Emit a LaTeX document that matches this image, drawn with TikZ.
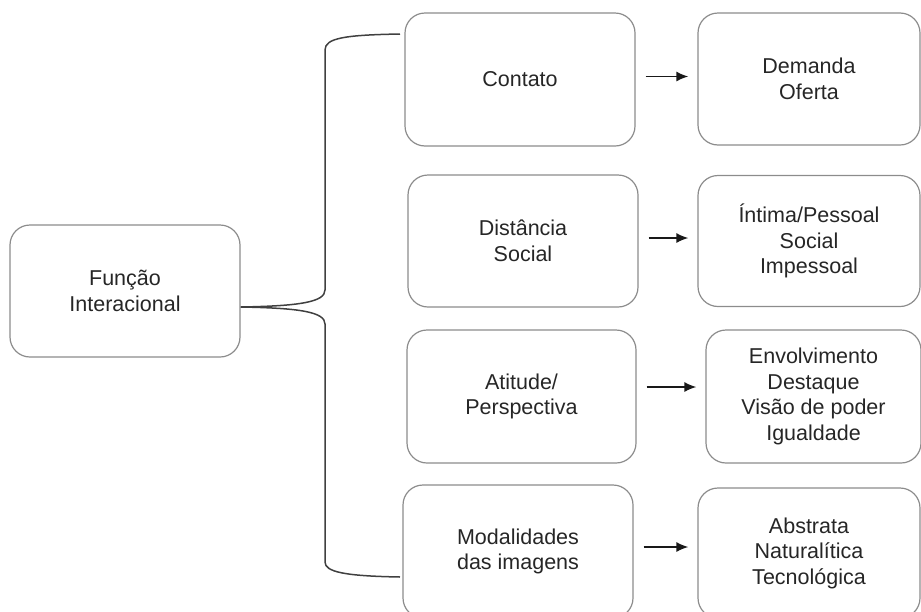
\documentclass[tikz,border=0pt]{standalone}
\usepackage{fontspec}
\setmainfont{Liberation Sans}
\usepackage{tikz}
\usetikzlibrary{arrows.meta}

\tikzset{
    caixa/.style={draw=black!45, line width=1.2pt, rounded corners=20pt, align=center,
        text=black!85, font=\fontsize{21.5}{25.5}\selectfont, inner sep=0pt},
    seta/.style={-{Latex[length=12pt,width=10pt]}, line width=1.6pt, black!90},
    chave/.style={line width=1.5pt, black!75}
}

\begin{document}
\begin{tikzpicture}[x=1pt,y=-1pt]
    \useasboundingbox (0,0) rectangle (921,611);

    % caixa principal
    \node[caixa, minimum width=230pt, minimum height=132pt] (funcao) at (125,291) {Função\\Interacional};

    % coluna do meio
    \node[caixa, minimum width=230pt, minimum height=133pt] (contato) at (520,79.5) {Contato};
    \node[caixa, minimum width=230pt, minimum height=132pt] (distancia) at (523,241) {Distância\\Social};
    \node[caixa, minimum width=229pt, minimum height=133pt] (atitude) at (521.5,396.5) {Atitude/\\Perspectiva};
    \node[caixa, minimum width=230pt, minimum height=133pt] (modal) at (518,551.5) {Modalidades\\das imagens};

    % coluna da direita
    \node[caixa, minimum width=222pt, minimum height=132pt] (demanda) at (809,79) {Demanda\\Oferta};
    \node[caixa, minimum width=222pt, minimum height=131pt] (intima) at (809,241) {Íntima/Pessoal\\Social\\Impessoal};
    \node[caixa, minimum width=215pt, minimum height=133pt] (envolv) at (813.5,396.5) {Envolvimento\\Destaque\\Visão de poder\\Igualdade};
    \node[caixa, minimum width=222pt, minimum height=130pt] (abstrata) at (809,553) {Abstrata\\Naturalítica\\Tecnológica};

    % chave
    \coordinate (chaveTopo) at (400,34);
    \coordinate (chaveBase) at (400,577);
    \coordinate (bico) at ([yshift=-16pt]funcao.east);
    \draw[chave] (chaveTopo) .. controls (345,35) and (325,38) .. (325,50) -- (325,290)
        .. controls (325,302) and (300,306) .. (bico)
        .. controls (300,308) and (325,312) .. (325,324) -- (325,562)
        .. controls (325,572) and (345,576) .. (chaveBase);

    % setas
    \foreach \a/\b/\s in {contato/demanda/3, distancia/intima/3, atitude/envolv/9.5, modal/abstrata/4.5}
        \draw[seta, shorten <=10pt, shorten >=9pt] ([yshift=\s pt]\a.east) -- ([yshift=\s pt]\a.east -| \b.west);
\end{tikzpicture}
\end{document}
